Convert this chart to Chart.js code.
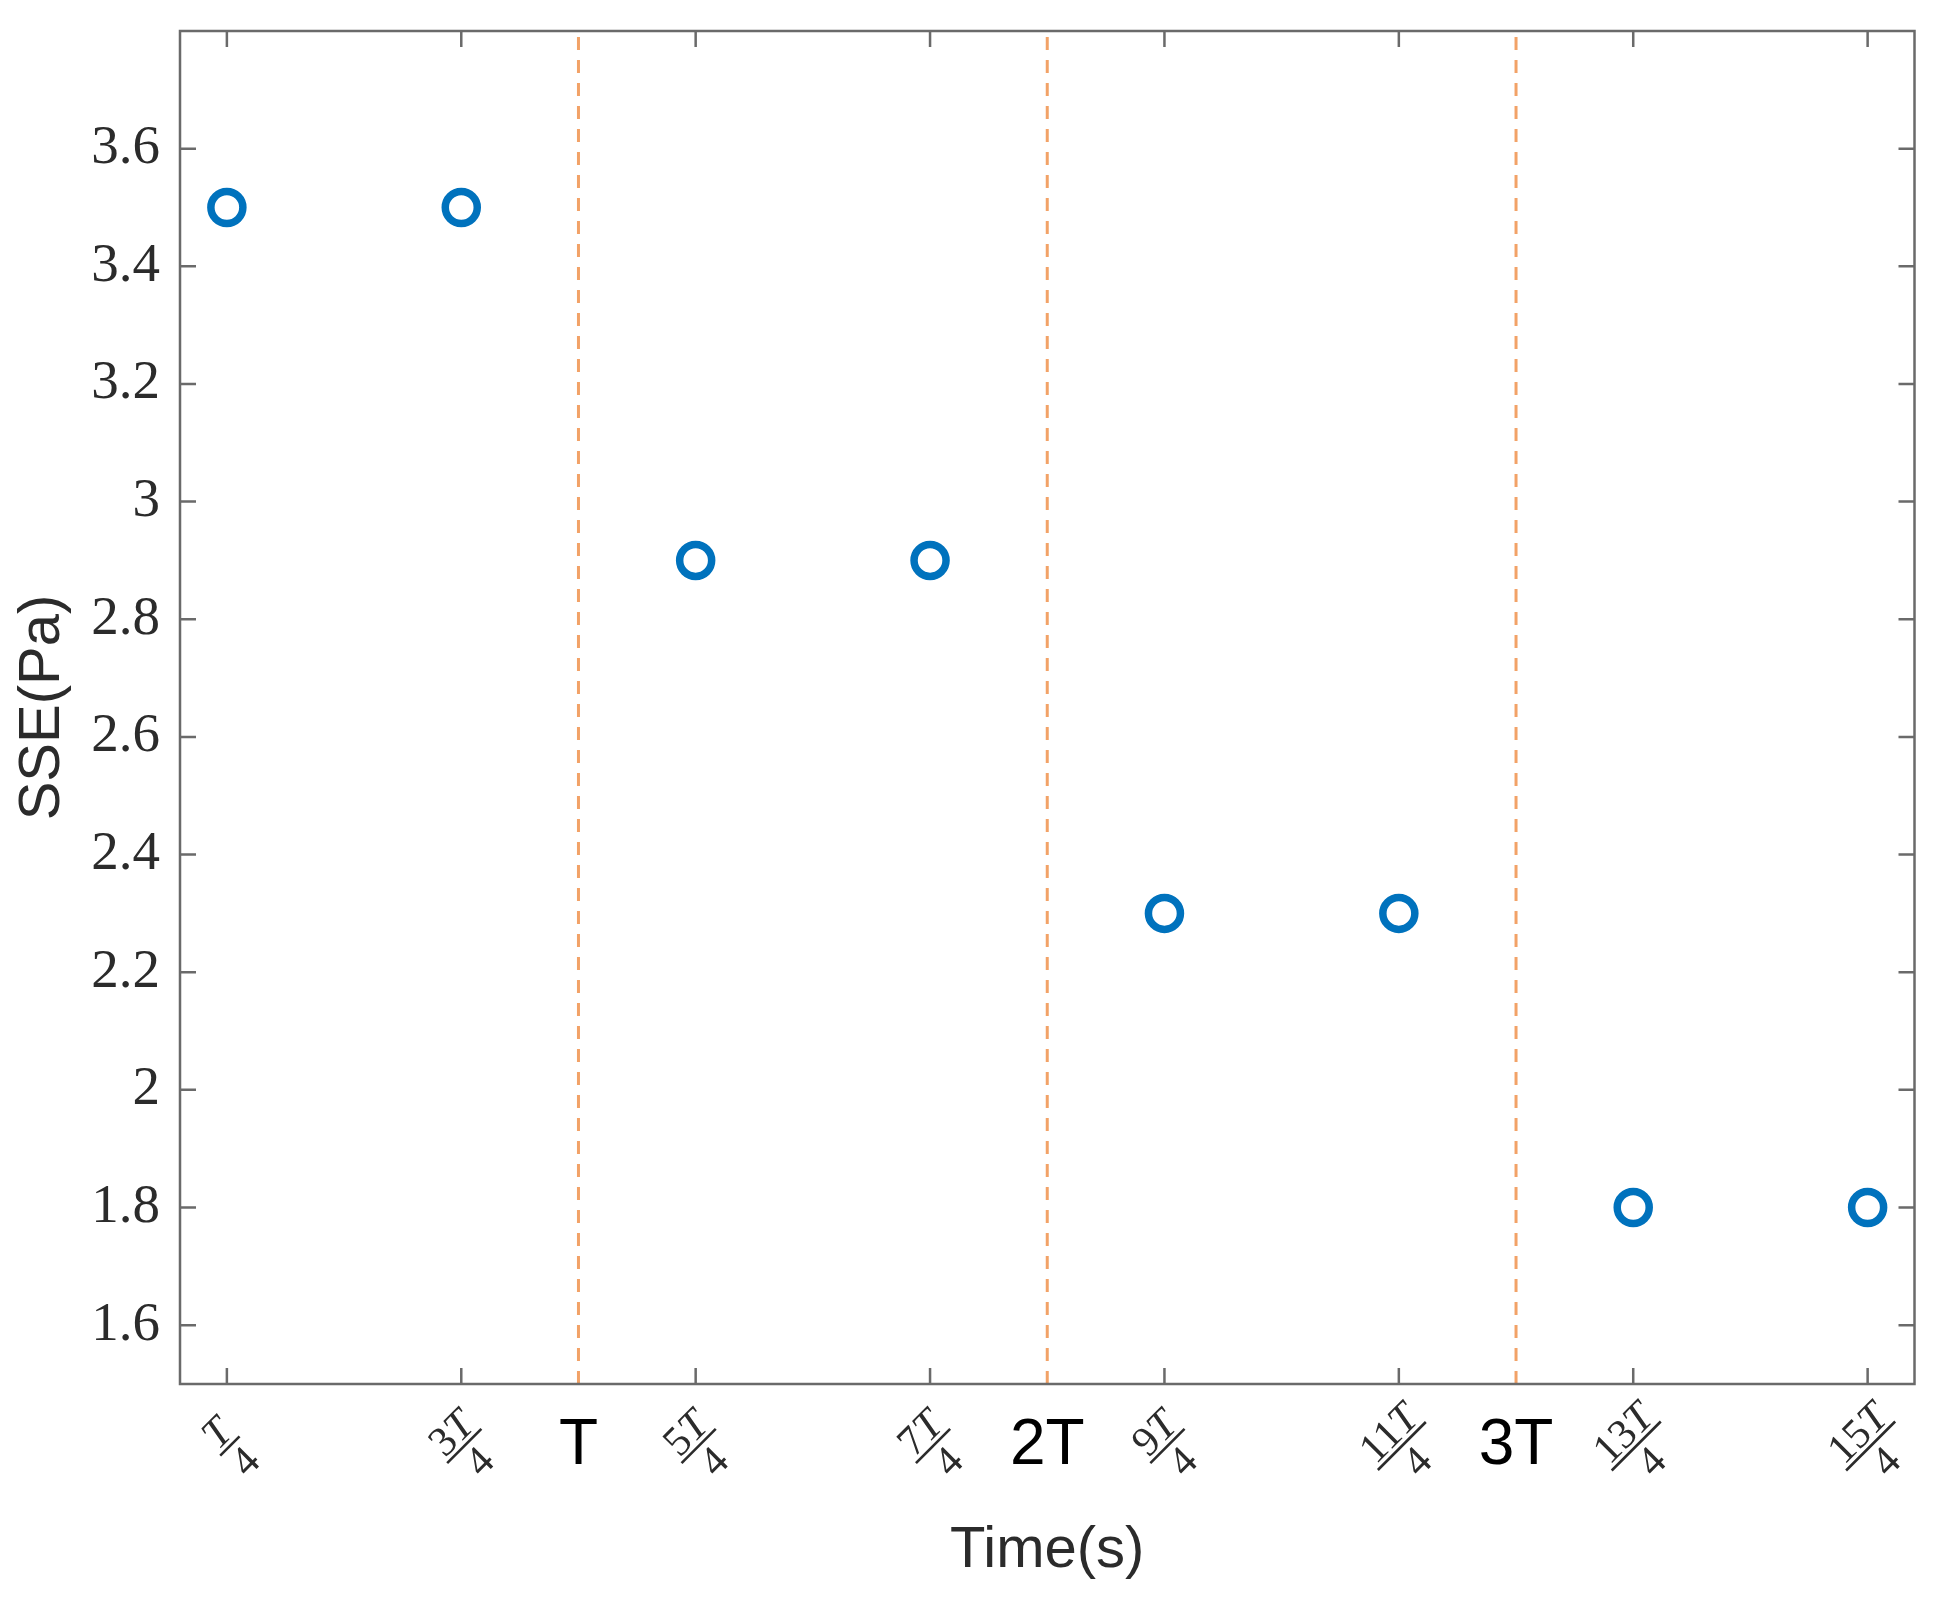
<!DOCTYPE html>
<html>
<head>
<meta charset="utf-8">
<script src="https://cdn.jsdelivr.net/npm/chart.js@4.4.1/dist/chart.umd.min.js"></script>
<style>
  html, body { margin: 0; padding: 0; background: #fff; }
  #wrap { width: 1938px; height: 1602px; position: relative; }
</style>
</head>
<body>
<div id="wrap"><canvas id="chart-sse"></canvas></div>
<script>
// x positions are in quarter periods (1 = T/4)
const xValues = [1, 3, 5, 7, 9, 11, 13, 15];
const sseValues = [3.5, 3.5, 2.9, 2.9, 2.3, 2.3, 1.8, 1.8];

const xTickValues = [1, 3, 5, 7, 9, 11, 13, 15];
const xTickLabels = ["T/4", "3T/4", "5T/4", "7T/4", "9T/4", "11T/4", "13T/4", "15T/4"];
const periodValues = [4, 8, 12];
const periodLabels = ["T", "2T", "3T"];
const yTickValues = [1.6, 1.8, 2, 2.2, 2.4, 2.6, 2.8, 3, 3.2, 3.4, 3.6];

const AXIS_COLOR = "#6a6a6a";
const TEXT_COLOR = "#2b2b2b";

// stacked fraction, rotated like MATLAB's 45 deg tick labels
function drawFraction(ctx, cx, cy, label) {
  const parts = label.split("/");
  const digits = parts[0].replace("T", "");
  const upright = '42px "Liberation Serif"';
  const italic = 'italic 42px "Liberation Serif"';
  ctx.save();
  ctx.translate(cx, cy);
  ctx.rotate(-Math.PI / 4);
  ctx.fillStyle = TEXT_COLOR;
  ctx.font = upright;
  const wd = digits ? ctx.measureText(digits).width : 0;
  ctx.font = italic;
  const wt = ctx.measureText("T").width;
  const w = wd + wt;
  ctx.textAlign = "left";
  ctx.textBaseline = "alphabetic";
  if (digits) {
    ctx.font = upright;
    ctx.fillText(digits, -w / 2, -5);
  }
  ctx.font = italic;
  ctx.fillText("T", -w / 2 + wd, -5);
  ctx.fillRect(-w / 2 - 2, -1.3, w + 4, 2.6);
  ctx.font = upright;
  ctx.textAlign = "center";
  ctx.textBaseline = "top";
  ctx.fillText(parts[1], 0, 3);
  ctx.restore();
}

const frameAndTicks = {
  id: "frameAndTicks",
  beforeDatasetsDraw(chart) {
    const ctx = chart.ctx;
    const area = chart.chartArea;
    const xs = chart.scales.x;
    ctx.save();
    ctx.strokeStyle = "#f2a267";
    ctx.lineWidth = 3;
    ctx.setLineDash([13, 10]);
    periodValues.forEach(v => {
      const px = xs.getPixelForValue(v);
      ctx.beginPath();
      ctx.moveTo(px, area.bottom);
      ctx.lineTo(px, area.top);
      ctx.stroke();
    });
    ctx.restore();
  },
  afterDraw(chart) {
    const ctx = chart.ctx;
    const area = chart.chartArea;
    const xs = chart.scales.x;
    const ys = chart.scales.y;
    const tl = 16;
    ctx.save();
    ctx.strokeStyle = AXIS_COLOR;
    ctx.lineWidth = 2.5;
    ctx.strokeRect(area.left, area.top, area.right - area.left, area.bottom - area.top);

    ctx.beginPath();
    xTickValues.forEach(v => {
      const px = xs.getPixelForValue(v);
      ctx.moveTo(px, area.bottom);
      ctx.lineTo(px, area.bottom - tl);
      ctx.moveTo(px, area.top);
      ctx.lineTo(px, area.top + tl);
    });
    yTickValues.forEach(v => {
      const py = ys.getPixelForValue(v);
      ctx.moveTo(area.left, py);
      ctx.lineTo(area.left + tl, py);
      ctx.moveTo(area.right, py);
      ctx.lineTo(area.right - tl, py);
    });
    ctx.stroke();

    xTickValues.forEach((v, i) => {
      drawFraction(ctx, xs.getPixelForValue(v) + 3, area.bottom + 62, xTickLabels[i]);
    });

    ctx.fillStyle = "#000";
    ctx.font = '64px "Liberation Sans"';
    ctx.textAlign = "center";
    ctx.textBaseline = "middle";
    periodValues.forEach((v, i) => {
      ctx.fillText(periodLabels[i], xs.getPixelForValue(v), area.bottom + 62);
    });
    ctx.restore();
  }
};

const ctx = document.getElementById("chart-sse").getContext("2d");
new Chart(ctx, {
  type: "scatter",
  data: {
    datasets: [{
      data: xValues.map((x, i) => ({ x: x, y: sseValues[i] })),
      pointRadius: 16,
      pointHoverRadius: 16,
      pointBorderWidth: 7.5,
      pointBackgroundColor: "rgba(255,255,255,0)",
      pointBorderColor: "#0072BD",
      showLine: false
    }]
  },
  options: {
    responsive: true,
    maintainAspectRatio: false,
    animation: false,
    layout: { padding: { top: 31, right: 22, left: 0, bottom: 0 } },
    plugins: {
      legend: { display: false },
      tooltip: { enabled: false }
    },
    scales: {
      x: {
        type: "linear",
        min: 0.6,
        max: 15.4,
        grid: { display: false, drawTicks: false },
        border: { display: false },
        ticks: { display: false },
        title: {
          display: true,
          text: "Time(s)",
          color: TEXT_COLOR,
          font: { family: "Liberation Sans", size: 58 },
          padding: { top: 0, bottom: 16 }
        },
        afterFit: function(scale) { scale.height = 218; }
      },
      y: {
        min: 1.5,
        max: 3.8,
        grid: { display: false, drawTicks: false },
        border: { display: false },
        afterBuildTicks: function(scale) {
          scale.ticks = yTickValues.map(v => ({ value: v }));
        },
        ticks: {
          color: TEXT_COLOR,
          padding: 20,
          font: { family: "Liberation Serif", size: 55 },
          callback: function(value) { return String(value); }
        },
        title: {
          display: true,
          text: "SSE(Pa)",
          color: TEXT_COLOR,
          font: { family: "Liberation Sans", size: 58 },
          padding: { top: 8, bottom: 0 }
        },
        afterFit: function(scale) {
          scale.width = 180;
          scale.paddingTop = 0;
          scale.paddingBottom = 0;
        }
      }
    }
  },
  plugins: [frameAndTicks]
});
</script>
</body>
</html>
